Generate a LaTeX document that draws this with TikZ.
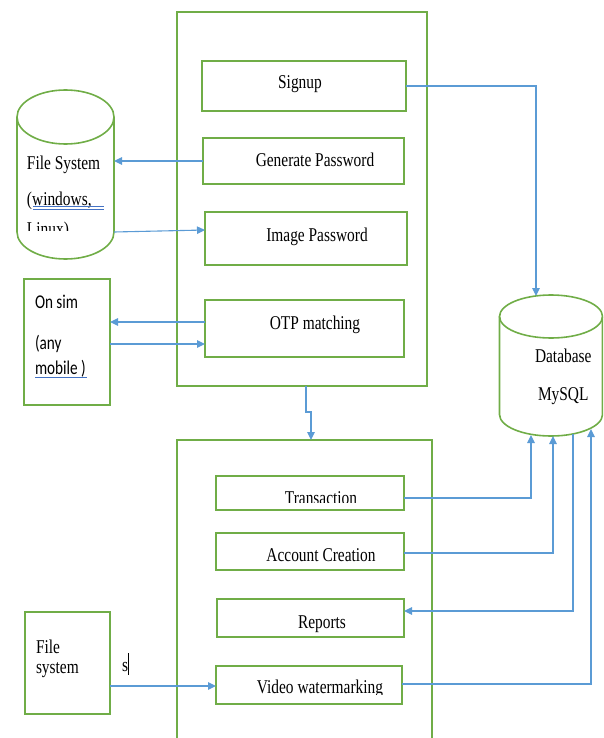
\documentclass[tikz,border=0pt]{standalone}
\usepackage{fontspec}
\setmainfont{Liberation Serif}
\newfontfamily\carl{Carlito}
\usetikzlibrary{arrows.meta}
\definecolor{boxgreen}{HTML}{70AD47}
\definecolor{linkblue}{HTML}{5B9BD5}
\definecolor{spellblue}{HTML}{4472C4}
\newcommand{\ttx}[1]{\scalebox{0.79}[1]{\fontsize{19.5}{22}\selectfont #1}}
\newcommand{\ctx}[1]{\scalebox{0.78}[1]{\carl\fontsize{19.5}{22}\selectfont #1}}
\begin{document}
\begin{tikzpicture}[x=1pt,y=-1pt,
  gbox/.style={draw=boxgreen,line width=1.6pt,inner sep=0pt,outer sep=0pt},
  cyl/.style={draw=boxgreen,line width=1.6pt},
  conn/.style={draw=linkblue,line width=1.1pt,-{Triangle[length=8pt,width=7.5pt]}},
  lbl/.style={inner sep=0pt,outer sep=0pt,text=black},
  spell/.style={draw=spellblue,line width=0.8pt}
]
\useasboundingbox (0,0) rectangle (603,738);
\clip (0,0) rectangle (603,738);

% big frames
\node[gbox,minimum width=250pt,minimum height=374pt] (topbox) at (302,199) {};
\node[gbox,minimum width=255pt,minimum height=320pt] (botbox) at (304.5,600) {};

% upper module boxes
\node[gbox,minimum width=204pt,minimum height=50pt] (signup) at (304,86) {};
\node[gbox,minimum width=201pt,minimum height=46pt] (gen) at (303.5,161) {};
\node[gbox,minimum width=202pt,minimum height=53pt] (img) at (306,238.5) {};
\node[gbox,minimum width=199pt,minimum height=57pt] (otp) at (304.5,328.5) {};

\node[lbl,anchor=base] (tsignup) at (300,89) {\ttx{Signup}};
\node[lbl,anchor=base] (tgen) at (315,167) {\ttx{Generate Password}};
\node[lbl,anchor=base] (timg) at (317,241) {\ttx{Image Password}};
\node[lbl,anchor=base] (totp) at (315,329) {\ttx{OTP matching}};

% lower module boxes
\node[gbox,minimum width=188pt,minimum height=34pt] (trans) at (310,493) {};
\node[gbox,minimum width=188pt,minimum height=37pt] (acc) at (310,551.5) {};
\node[gbox,minimum width=187pt,minimum height=38pt] (rep) at (310.5,618) {};
\node[gbox,minimum width=186pt,minimum height=38pt] (vid) at (309,685) {};

\begin{scope}
\clip (0,0) rectangle (603,502);
\node[lbl,anchor=base] (ttrans) at (321,504) {\ttx{Transaction}};
\end{scope}
\node[lbl,anchor=base] (tacc) at (321,561) {\ttx{Account Creation}};
\node[lbl,anchor=base] (trep) at (322,628) {\ttx{Reports}};
\begin{scope}
\clip (0,0) rectangle (603,694);
\node[lbl,anchor=base] (tvid) at (320,693) {\ttx{Video watermarking}};
\end{scope}

% File System cylinder
\draw[cyl] (17,117) -- (17,232) arc[start angle=180,end angle=360,x radius=48.5pt,y radius=27pt] -- (114,117);
\draw[cyl] (65.5,117) ellipse [x radius=48.5pt, y radius=27pt];
\node[inner sep=0pt,outer sep=0pt,minimum width=97pt,minimum height=169pt] (fs) at (65.5,174.5) {};
\node[lbl,anchor=base west] (tfs1) at (27,169) {\ttx{File System}};
\node[lbl,anchor=base west] (tfs2) at (27,205) {\ttx{(windows,}};
\draw[spell] (33,206.5) -- (104,206.5);
\draw[spell] (33,209.5) -- (104,209.5);
\begin{scope}
\clip (0,0) rectangle (603,230);
\node[lbl,anchor=base west] (tfs3) at (27,235) {\ttx{Linux)}};
\end{scope}

% Database cylinder
\draw[cyl] (499.5,316.5) -- (499.5,414.5) arc[start angle=180,end angle=360,x radius=51.5pt,y radius=21.5pt] -- (602.5,316.5);
\draw[cyl] (551,316.5) ellipse [x radius=51.5pt, y radius=21.5pt];
\node[inner sep=0pt,outer sep=0pt,minimum width=103pt,minimum height=141pt] (db) at (551,365.5) {};
\node[lbl,anchor=base west] (tdb1) at (535,362) {\ttx{Database}};
\node[lbl,anchor=base west] (tdb2) at (538,400) {\ttx{MySQL}};

% On sim box
\node[gbox,minimum width=86pt,minimum height=126pt] (onsim) at (67,342) {};
\node[lbl,anchor=base west] (ton1) at (35,308) {\ctx{On sim}};
\node[lbl,anchor=base west] (ton2) at (35,349) {\ctx{(any}};
\node[lbl,anchor=base west] (ton3) at (35,374) {\ctx{mobile )}};
\draw[spell] (35,377) -- (87,377);

% File system box (bottom left)
\node[gbox,minimum width=85pt,minimum height=102pt] (fsbox) at (67.5,663) {};
\node[lbl,anchor=base west] (tfb1) at (36,653) {\ttx{File}};
\node[lbl,anchor=base west] (tfb2) at (36,673) {\ttx{system}};
\node[lbl,anchor=base west] (tcur) at (122,671) {\ttx{s}};
\draw[black,line width=0.7pt] (128.5,653) -- (128.5,675);

% DB contact points
\coordinate (dbtop) at (536,296);
\coordinate (db1) at (531,435);
\coordinate (db2) at (553,436);
\coordinate (db3) at (573,434);
\coordinate (db4) at (591,429);

% connectors
\draw[conn] (signup.east) -| (dbtop);
\draw[conn] (gen.west) -- (gen.west -| fs.east);
\draw[conn] ([yshift=-57.5pt]fs.east) -- ([yshift=8.5pt]img.west);
\coordinate (o1) at ([yshift=6.5pt]otp.west);
\draw[conn] (o1) -- (o1 -| onsim.east);
\coordinate (o2) at ([yshift=-2pt]onsim.east);
\draw[conn] (o2) -- (o2 -| otp.west);
\coordinate (tb1) at ([xshift=4pt]topbox.south);
\coordinate (tb2) at ([xshift=6.5pt]botbox.north);
\draw[conn] (tb1) -- ++(0,26) -| (tb2);
\draw[conn] ([yshift=-5pt]trans.east) -| (db1);
\draw[conn] ([yshift=-1.5pt]acc.east) -| (db2);
\draw[conn] (db3) |- ([yshift=7pt]rep.east);
\draw[conn] ([yshift=1pt]vid.east) -| (db4);
\coordinate (f1) at ([yshift=-23pt]fsbox.east);
\draw[conn] (f1) -- (f1 -| vid.west);
\end{tikzpicture}
\end{document}
